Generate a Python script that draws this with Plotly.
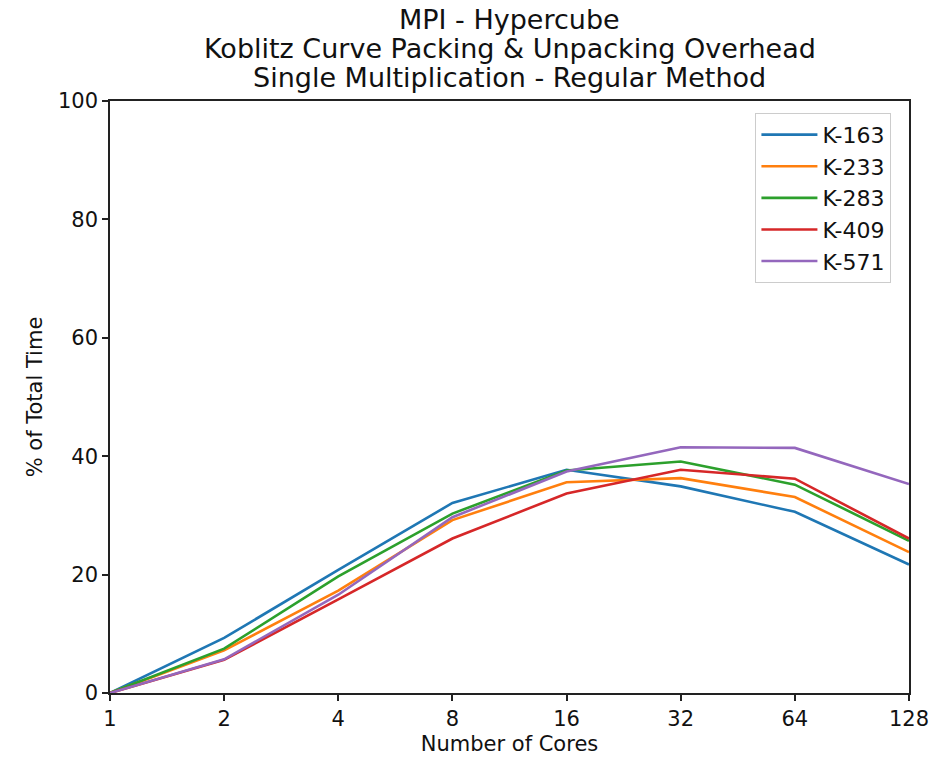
import plotly.graph_objects as go

# Core counts (log2 spaced) and overhead percentages per Koblitz curve
cores = [1, 2, 4, 8, 16, 32, 64, 128]
core_labels = ["1", "2", "4", "8", "16", "32", "64", "128"]

k163 = [0.0, 9.3, 20.8, 32.1, 37.7, 34.9, 30.6, 21.7]
k233 = [0.0, 7.2, 17.3, 29.2, 35.6, 36.3, 33.1, 23.8]
k283 = [0.0, 7.5, 19.7, 30.3, 37.6, 39.1, 35.2, 25.7]
k409 = [0.0, 5.6, 15.8, 26.1, 33.7, 37.7, 36.2, 26.1]
k571 = [0.0, 5.7, 16.6, 29.7, 37.4, 41.5, 41.4, 35.3]

series = [
    ("K-163", k163, "#1f77b4"),
    ("K-233", k233, "#ff7f0e"),
    ("K-283", k283, "#2ca02c"),
    ("K-409", k409, "#d62728"),
    ("K-571", k571, "#9467bd"),
]

title_lines = [
    "MPI - Hypercube",
    "Koblitz Curve Packing &amp; Unpacking Overhead",
    "Single Multiplication - Regular Method",
]

font_family = "DejaVu Sans"
label_size = 21
title_size = 27

fig = go.Figure()
for name, vals, color in series:
    fig.add_trace(go.Scatter(
        x=cores, y=vals, name=name, mode="lines",
        line=dict(color=color, width=2.6),
    ))

# three-line title, stacked above the plot area
for i, line in enumerate(title_lines):
    fig.add_annotation(
        text=line, xref="paper", yref="paper",
        x=0.5, y=1.138 - i * 0.049, xanchor="center", yanchor="middle",
        showarrow=False, font=dict(family=font_family, size=title_size, color="#111111"),
    )

fig.update_layout(
    width=946, height=764,
    margin=dict(l=110, r=37, t=101, b=69),
    paper_bgcolor="white", plot_bgcolor="white",
    font=dict(family=font_family, size=label_size, color="#111111"),
    showlegend=True,
    legend=dict(
        x=0.978, xanchor="right", y=0.98, yanchor="top",
        bgcolor="white", bordercolor="#cccccc", borderwidth=1,
        font=dict(family=font_family, size=22),
        tracegroupgap=0, itemwidth=56,
    ),
)

fig.update_xaxes(
    type="log", range=[0, 2.10721],
    tickvals=cores, ticktext=core_labels,
    showgrid=False, zeroline=False,
    showline=True, linecolor="#222222", linewidth=1.5, mirror=True,
    ticks="outside", ticklen=6, tickwidth=1.5, tickcolor="#222222",
    tickfont=dict(size=label_size),
    title=dict(text="Number of Cores", font=dict(size=label_size), standoff=6),
)
fig.update_yaxes(
    range=[0, 100], tickvals=[0, 20, 40, 60, 80, 100],
    showgrid=False, zeroline=False,
    showline=True, linecolor="#222222", linewidth=1.5, mirror=True,
    ticks="outside", ticklen=6, tickwidth=1.5, tickcolor="#222222",
    tickfont=dict(size=label_size),
    title=dict(text="% of Total Time", font=dict(size=label_size), standoff=10),
)

fig.write_html("out.html")
